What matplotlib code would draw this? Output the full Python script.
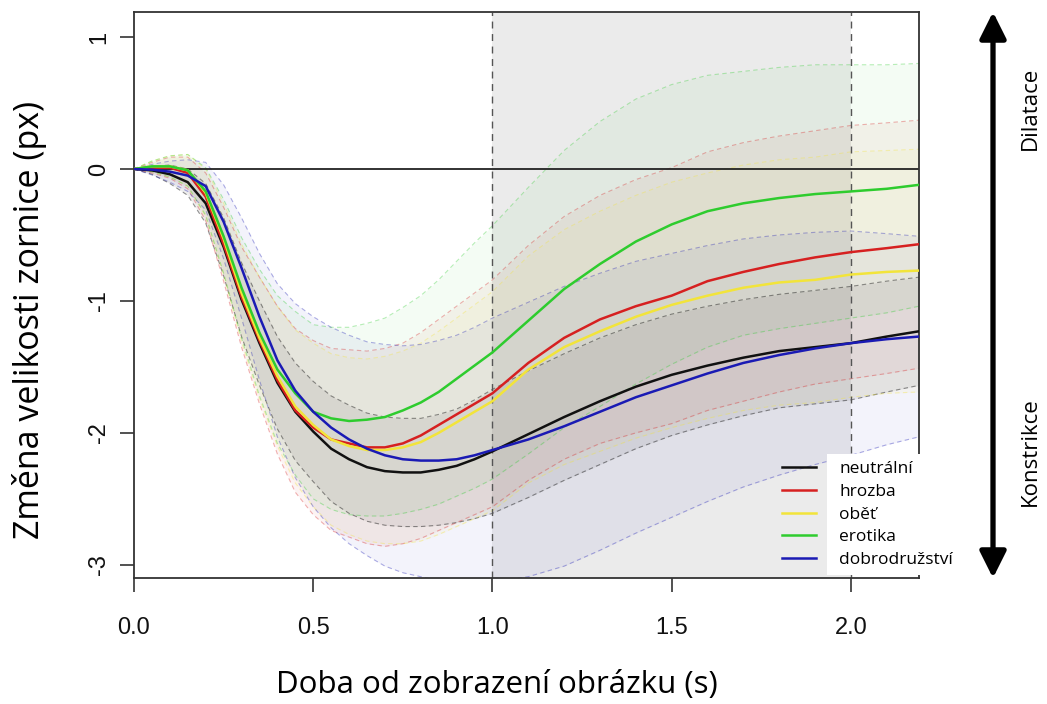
import numpy as np, matplotlib; matplotlib.use('Agg')
import matplotlib.pyplot as plt
from matplotlib.patches import Rectangle, FancyArrowPatch

# time grid (s) and condition means / SDs (px)
t = [0, .05, .1, .15, .2, .25, .3, .35, .4, .45, .5, .55, .6, .65, .7, .75, .8, .85, .9, .95,
     1.0, 1.1, 1.2, 1.3, 1.4, 1.5, 1.6, 1.7, 1.8, 1.9, 2.0, 2.1, 2.19]
labels = ['neutrální', 'hrozba', 'oběť', 'erotika', 'dobrodružství']
colors = ['#111111', '#d62020', '#f2e43a', '#2ecc2e', '#1a1ab4']
neutral = [0, -0.01, -0.04, -0.10, -0.26, -0.59, -0.99, -1.32, -1.62, -1.84, -1.99, -2.12, -2.20, -2.26, -2.29,
           -2.30, -2.30, -2.28, -2.25, -2.20, -2.14, -2.01, -1.88, -1.76, -1.65, -1.56, -1.49, -1.43, -1.38,
           -1.35, -1.32, -1.27, -1.23]
threat = [0, 0.01, 0.01, -0.03, -0.21, -0.57, -0.97, -1.30, -1.60, -1.83, -1.96, -2.05, -2.08, -2.11, -2.11,
          -2.08, -2.02, -1.94, -1.86, -1.78, -1.70, -1.47, -1.28, -1.14, -1.04, -0.96, -0.85, -0.78, -0.72,
          -0.67, -0.63, -0.60, -0.57]
victim = [0, 0.02, 0.02, -0.01, -0.18, -0.53, -0.94, -1.28, -1.57, -1.80, -1.94, -2.05, -2.10, -2.13, -2.13,
          -2.11, -2.07, -2.00, -1.92, -1.84, -1.76, -1.52, -1.35, -1.23, -1.12, -1.03, -0.96, -0.90, -0.86,
          -0.84, -0.80, -0.78, -0.77]
erotic = [0, 0.02, 0.02, -0.01, -0.17, -0.51, -0.90, -1.24, -1.52, -1.70, -1.84, -1.89, -1.91, -1.90, -1.88,
          -1.83, -1.77, -1.69, -1.59, -1.49, -1.39, -1.15, -0.91, -0.72, -0.55, -0.42, -0.32, -0.26, -0.22,
          -0.19, -0.17, -0.15, -0.12]
advent = [0, -0.005, -0.02, -0.05, -0.13, -0.40, -0.75, -1.12, -1.45, -1.68, -1.84, -1.96, -2.05, -2.12, -2.17,
          -2.20, -2.21, -2.21, -2.20, -2.17, -2.13, -2.05, -1.95, -1.84, -1.73, -1.64, -1.55, -1.47, -1.41,
          -1.36, -1.32, -1.29, -1.27]
sd_neutral = [0, .03, .07, .10, .15, .22, .28, .32, .35, .37, .38, .40, .41, .41, .41, .41, .41, .42, .43, .45,
              .47, .48, .48, .48, .47, .46, .45, .44, .43, .43, .43, .42, .41]
sd_threat = [0, .04, .08, .12, .18, .28, .38, .48, .56, .62, .66, .69, .71, .73, .75, .76, .78, .80, .82, .84,
             .86, .89, .92, .94, .96, .97, .98, .98, .97, .96, .96, .95, .94]
sd_victim = [0, .04, .08, .12, .18, .27, .37, .46, .53, .58, .62, .65, .67, .69, .71, .73, .75, .77, .79, .81,
             .83, .86, .89, .91, .92, .93, .93, .93, .93, .93, .93, .92, .92]
sd_erotic = [0, .04, .08, .12, .18, .28, .38, .48, .56, .62, .66, .69, .71, .73, .75, .78, .81, .85, .89, .93,
             .96, 1.01, 1.05, 1.08, 1.08, 1.06, 1.03, 1.00, .99, .98, .96, .94, .92]
sd_advent = [0, .04, .08, .12, .18, .28, .38, .48, .58, .66, .72, .76, .79, .81, .84, .86, .88, .91, .94, .97,
             1.00, 1.04, 1.06, 1.05, 1.03, 1.00, .97, .94, .91, .88, .85, .80, .76]
means = [neutral, threat, victim, erotic, advent]
sds = [sd_neutral, sd_threat, sd_victim, sd_erotic, sd_advent]

W, H = 1047, 704
fig = plt.figure(figsize=(W / 100, H / 100), dpi=100)
ax = fig.add_axes([134 / W, 1 - 578 / H, 785 / W, 566 / H])
ax.axvspan(1.0, 2.0, color='#ebebeb', lw=0, zorder=0)
tt = np.array(t)
for m, s, c in zip(means, sds, colors):
    m, s = np.array(m), np.array(s)
    black = c == '#111111'
    ax.fill_between(tt, m - s, m + s, color=c, alpha=0.07 if black else 0.05, lw=0, zorder=1)
    for edge in (m - s, m + s):
        ax.plot(tt, edge, ls=(0, (4, 3)), color=c, alpha=0.45 if black else 0.35, lw=0.8, zorder=1.5)
ax.axhline(0, color='#222222', lw=1.3, zorder=2)
for x in (1.0, 2.0):
    ax.axvline(x, color='#555555', ls=(0, (5, 4)), lw=1.0, zorder=2)
handles = []
for m, c, lab in zip(means, colors, labels):
    h, = ax.plot(t, m, color=c, lw=1.8, label=lab, zorder=3)
    handles.append(h)

ax.set_xlim(0, 2.19)
ax.set_ylim(-3.10, 1.19)
ax.set_xticks([0, 0.5, 1.0, 1.5, 2.0])
ax.set_xticklabels(['0.0', '0.5', '1.0', '1.5', '2.0'])
ax.set_yticks([-3, -2, -1, 0, 1])
ax.set_yticklabels(['-3', '-2', '-1', '0', '1'], rotation=90, va='center')
ax.tick_params(length=10, width=1.2, color='#333333', labelsize=17, labelcolor='#111111')
ax.tick_params(axis='x', pad=18)
ax.tick_params(axis='y', pad=7)
for lbl in ax.get_xticklabels() + ax.get_yticklabels():
    lbl.set_family(['Liberation Sans Narrow', 'Liberation Sans'])
for sp in ax.spines.values():
    sp.set_color('#333333'); sp.set_linewidth(1.3)

fig.text(30 / W, 1 - 320 / H, 'Změna velikosti zornice (px)', rotation=90, ha='center', va='center',
         fontsize=24.5, family='Open Sans')
fig.text(497 / W, 1 - 685 / H, 'Doba od zobrazení obrázku (s)', ha='center', va='center',
         fontsize=22.5, family='Open Sans')

# white patch behind the legend text
fig.add_artist(Rectangle((827 / W, 1 - 575 / H), 122 / W, 121 / H, transform=fig.transFigure,
                         facecolor='white', edgecolor='none', zorder=2))
fig.legend(handles, labels, loc='upper left', bbox_to_anchor=(782 / W, 1 - 461 / H), frameon=False,
           borderpad=0, borderaxespad=0, handlelength=1.95, handletextpad=1.35, labelspacing=0.38,
           prop={'family': 'Open Sans', 'size': 12.5})

arrow = FancyArrowPatch((993 / W, 1 - 578 / H), (993 / W, 1 - 12 / H), transform=fig.transFigure,
                        arrowstyle='<|-|>,head_length=0.8,head_width=0.4', mutation_scale=20,
                        lw=3.8, color='black', shrinkA=0, shrinkB=0)
fig.add_artist(arrow)
fig.text(1030 / W, 1 - 108 / H, 'Dilatace', rotation=90, ha='center', va='center', fontsize=16,
         family='Open Sans')
fig.text(1030 / W, 1 - 452 / H, 'Konstrikce', rotation=90, ha='center', va='center', fontsize=16,
         family='Open Sans')

fig.savefig('out.png', dpi=100)
